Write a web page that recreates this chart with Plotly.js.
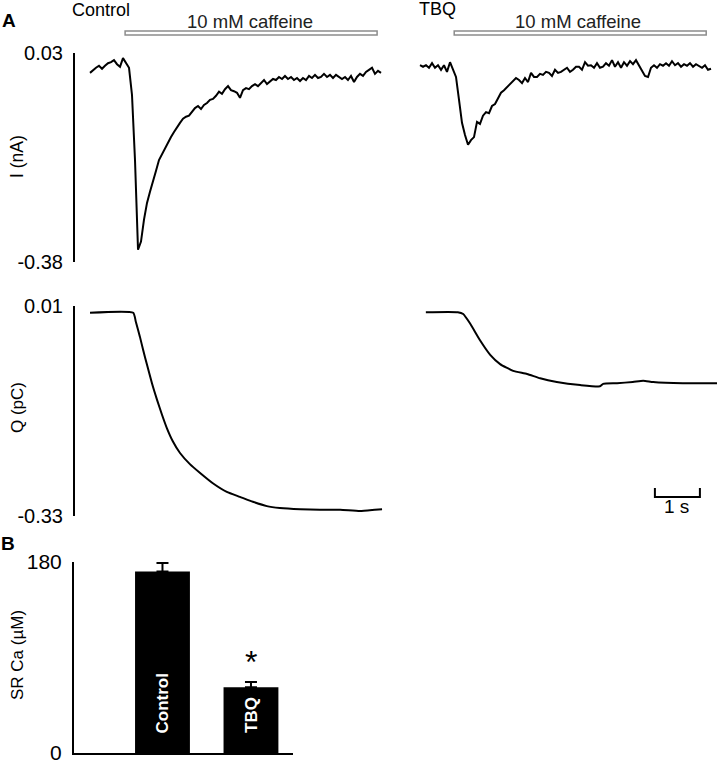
<!DOCTYPE html>
<html>
<head>
<meta charset="utf-8">
<script src="https://cdn.plot.ly/plotly-3.0.1.min.js"></script>
<style>html,body{margin:0;padding:0;background:#fff;}#chart{width:722px;height:763px;}</style>
</head>
<body>
<div id="chart"></div>
<script>
// ---- Data ----
// Sample times (s) of the membrane-current recordings
var tCurrent = [0, 0.067, 0.133, 0.2, 0.267, 0.333, 0.4, 0.467, 0.533, 0.6,
  0.667, 0.733, 0.8, 0.867, 0.933, 1.0, 1.067, 1.133, 1.2, 1.267,
  1.333, 1.4, 1.467, 1.533, 1.6, 1.667, 1.733, 1.8, 1.867, 1.933,
  2.0, 2.067, 2.133, 2.2, 2.267, 2.333, 2.4, 2.467, 2.533, 2.6,
  2.667, 2.733, 2.8, 2.867, 2.933, 3.0, 3.067, 3.133, 3.2, 3.267,
  3.333, 3.4, 3.467, 3.533, 3.6, 3.667, 3.733, 3.8, 3.867, 3.933,
  4.0, 4.067, 4.133, 4.2, 4.267, 4.333, 4.4, 4.467, 4.533, 4.6,
  4.667, 4.733, 4.8, 4.867, 4.933, 5.0, 5.067, 5.133, 5.2, 5.267,
  5.333, 5.4, 5.467, 5.533, 5.6, 5.667, 5.733, 5.8, 5.867, 5.933,
  6.0, 6.067, 6.133, 6.2, 6.267, 6.333, 6.4, 6.467];
// Control current (nA)
var iControl = [-0.009, -0.003, 0.001, 0.005, -0.001, 0.005, 0.010, 0.012, 0.016, 0.008,
  0.003, 0.020, 0.010, 0.001, -0.052, -0.180, -0.356, -0.340, -0.297, -0.264,
  -0.242, -0.223, -0.201, -0.180, -0.168, -0.156, -0.144, -0.135, -0.125, -0.115,
  -0.107, -0.099, -0.095, -0.093, -0.086, -0.078, -0.074, -0.080, -0.072, -0.068,
  -0.062, -0.060, -0.054, -0.046, -0.050, -0.041, -0.035, -0.043, -0.045, -0.048,
  -0.058, -0.043, -0.039, -0.041, -0.035, -0.031, -0.035, -0.029, -0.023, -0.031,
  -0.025, -0.021, -0.023, -0.017, -0.021, -0.015, -0.021, -0.017, -0.023, -0.019,
  -0.025, -0.019, -0.023, -0.015, -0.019, -0.013, -0.019, -0.017, -0.011, -0.017,
  -0.013, -0.019, -0.013, -0.017, -0.021, -0.017, -0.023, -0.015, -0.027, -0.017,
  -0.011, -0.015, -0.007, -0.003, 0.001, -0.011, -0.005, -0.009];
// TBQ current (nA)
var iTBQ = [0.006, 0.003, 0.006, 0.001, 0.010, 0.001, 0.006, -0.003, 0.006, -0.007,
  0.012, -0.003, -0.017, -0.062, -0.107, -0.131, -0.150, -0.141, -0.135, -0.105,
  -0.109, -0.093, -0.086, -0.088, -0.074, -0.070, -0.058, -0.048, -0.043, -0.037,
  -0.033, -0.025, -0.019, -0.023, -0.029, -0.019, -0.027, -0.009, -0.017, -0.017,
  -0.011, -0.013, -0.007, -0.009, -0.015, -0.003, -0.009, -0.007, -0.003, 0.001,
  -0.007, -0.003, 0.003, 0.003, -0.003, 0.012, 0.005, 0.006, 0.001, 0.010,
  0.001, 0.003, 0.010, 0.005, 0.016, 0.003, 0.012, 0.001, 0.012, 0.005,
  0.014, 0.008, 0.016, 0.005, -0.003, -0.015, -0.017, 0.001, 0.006, 0.001,
  0.008, 0.005, 0.010, 0.005, 0.014, 0.006, 0.010, 0.003, 0.008, 0.005,
  0.010, 0.003, 0.008, 0.005, 0.001, 0.006, -0.003, -0.001];
// Integrated charge, control (pC)
var tChargeControl = [0, 0.96, 1.02, 1.11, 1.18, 1.27, 1.38, 1.49, 1.6, 1.71, 1.84, 2.0, 2.22,
  2.44, 2.73, 3.04, 3.33, 3.62, 3.93, 4.22, 4.67, 5.11, 5.56, 6.0, 6.33, 6.49];
var qControl = [-0.001, -0.001, -0.016, -0.040, -0.061, -0.086, -0.116, -0.142, -0.166, -0.188,
  -0.209, -0.228, -0.246, -0.260, -0.277, -0.291, -0.299, -0.307, -0.314, -0.317,
  -0.319, -0.320, -0.320, -0.322, -0.320, -0.319];
// Integrated charge, TBQ (pC)
var tChargeTBQ = [0.13, 0.84, 0.96, 1.11, 1.33, 1.56, 1.78, 2.07, 2.38, 2.67, 3.04, 3.56, 4.0,
  4.07, 4.38, 4.73, 4.96, 5.18, 5.84, 6.6];
var qTBQ = [0.000, 0.000, -0.003, -0.018, -0.045, -0.069, -0.084, -0.095, -0.100, -0.107,
  -0.113, -0.118, -0.120, -0.116, -0.115, -0.113, -0.111, -0.113, -0.115, -0.115];
// Panel B: SR Ca content
var groups = ['Control', 'TBQ'];
var srCaMean = [171, 62];
var srCaSem = [8, 5];
// Axis ticks
var iTicks = [-0.38, 0.03], iTickText = ['-0.38', '0.03'];
var qTicks = [-0.33, 0.01], qTickText = ['-0.33', '0.01'];
var srTicks = [0, 180], srTickText = ['0', '180'];

// ---- Layout helpers ----
var W = 722, H = 763;
function px(x) { return x / W; }
function py(y) { return 1 - y / H; }
var FONT = 'Liberation Sans, Arial, Helvetica, sans-serif';
var tRange = [-15 / 45, 302 / 45];

function hiddenX(dom) {
  return {domain: dom, range: tRange, visible: false, fixedrange: true};
}
function traceY(dom, rng, tv, tt, show) {
  return {
    domain: dom, range: rng, visible: show, showgrid: false, zeroline: false,
    showline: true, linecolor: '#000', linewidth: 2,
    tickmode: 'array', tickvals: tv, ticktext: tt,
    ticks: 'inside', ticklen: 7, tickwidth: 2, tickcolor: '#000',
    ticklabelstandoff: 6, ticklabeloverflow: 'allow',
    tickfont: {family: FONT, size: 20, color: '#000'}, fixedrange: true
  };
}
function note(text, xref, yref, x, y, size, extra) {
  var a = {text: text, xref: xref, yref: yref, x: x, y: y, showarrow: false,
           xanchor: 'center', yanchor: 'middle',
           font: {family: FONT, size: size, color: '#000'}};
  return Object.assign(a, extra || {});
}

var domCtrl = [px(75), px(392)];
var domTbq = [px(405), px(722)];
var domI = [py(262), py(53)];
var domQ = [py(516), py(306)];

var lineStyle = {color: '#000', width: 2};

var data = [
  {x: tCurrent, y: iControl, xaxis: 'x', yaxis: 'y', type: 'scatter', mode: 'lines', line: lineStyle, name: 'Control I'},
  {x: tCurrent, y: iTBQ, xaxis: 'x2', yaxis: 'y2', type: 'scatter', mode: 'lines', line: lineStyle, name: 'TBQ I'},
  {x: tChargeControl, y: qControl, xaxis: 'x3', yaxis: 'y3', type: 'scatter', mode: 'lines',
   line: {color: '#000', width: 2, shape: 'spline', smoothing: 0.5}, name: 'Control Q'},
  {x: tChargeTBQ, y: qTBQ, xaxis: 'x4', yaxis: 'y4', type: 'scatter', mode: 'lines',
   line: {color: '#000', width: 2, shape: 'spline', smoothing: 0.5}, name: 'TBQ Q'},
  {x: groups, y: srCaMean, xaxis: 'x5', yaxis: 'y5', type: 'bar', width: 0.62,
   marker: {color: '#000', line: {width: 0}},
   error_y: {type: 'data', array: srCaSem, arrayminus: [0, 0], symmetric: false,
             color: '#000', thickness: 2, width: 6},
   name: 'SR Ca'}
];

var annotations = [
  note('<b>A</b>', 'paper', 'paper', px(9), py(20), 19),
  note('<b>B</b>', 'paper', 'paper', px(8), py(543), 19),
  note('Control', 'paper', 'paper', px(101), py(10), 18),
  note('TBQ', 'paper', 'paper', px(437), py(9), 18),
  note('10 mM caffeine', 'x', 'paper', 3.55, py(22), 18.5, {font: {family: FONT, size: 18.5, color: '#222'}}),
  note('10 mM caffeine', 'x2', 'paper', 3.52, py(22), 18.5, {font: {family: FONT, size: 18.5, color: '#222'}}),
  note('1 s', 'x4', 'paper', 5.71, py(506), 19),
  note('I (nA)', 'paper', 'paper', px(17), py(157), 17.5, {textangle: -90}),
  note('Q (pC)', 'paper', 'paper', px(17), py(408), 17, {textangle: -90}),
  note('SR Ca (\u00b5M)', 'paper', 'paper', px(17), py(655), 17, {textangle: -90}),
  note('*', 'x5', 'y5', groups[1], srCaMean[1] + srCaSem[1], 32, {yanchor: 'bottom', yshift: 0}),
  note('<b>' + groups[0] + '</b>', 'x5', 'y5', groups[0], 0, 17,
       {yanchor: 'bottom', yshift: 18, textangle: -90, font: {family: FONT, size: 17, color: '#fff'}}),
  note('<b>' + groups[1] + '</b>', 'x5', 'y5', groups[1], 0, 17,
       {yanchor: 'bottom', yshift: 18, textangle: -90, font: {family: FONT, size: 17, color: '#fff'}})
];

var shapes = [
  {type: 'rect', xref: 'x', yref: 'paper', x0: 0.78, x1: 6.38, y0: py(35), y1: py(31),
   line: {color: '#8c8c8c', width: 1.5}, fillcolor: '#fff'},
  {type: 'rect', xref: 'x2', yref: 'paper', x0: 0.76, x1: 6.36, y0: py(35), y1: py(31),
   line: {color: '#8c8c8c', width: 1.5}, fillcolor: '#fff'},
  {type: 'path', xref: 'x4', yref: 'paper',
   path: 'M 5.22,' + py(488) + ' L 5.22,' + py(497) + ' L 6.22,' + py(497) + ' L 6.22,' + py(488),
   line: {color: '#000', width: 2}}
];

var layout = {
  width: W, height: H, autosize: false,
  margin: {l: 0, r: 0, t: 0, b: 0, pad: 0},
  paper_bgcolor: '#fff', plot_bgcolor: 'rgba(0,0,0,0)',
  showlegend: false,
  font: {family: FONT, color: '#000'},
  xaxis: Object.assign(hiddenX(domCtrl), {anchor: 'y'}),
  xaxis2: Object.assign(hiddenX(domTbq), {anchor: 'y2'}),
  xaxis3: Object.assign(hiddenX(domCtrl), {anchor: 'y3'}),
  xaxis4: Object.assign(hiddenX(domTbq), {anchor: 'y4'}),
  yaxis: Object.assign(traceY(domI, [-0.38, 0.03], iTicks, iTickText, true), {anchor: 'x'}),
  yaxis2: Object.assign(traceY(domI, [-0.38, 0.03], iTicks, iTickText, false), {anchor: 'x2'}),
  yaxis3: Object.assign(traceY(domQ, [-0.33, 0.01], qTicks, qTickText, true), {anchor: 'x3'}),
  yaxis4: Object.assign(traceY(domQ, [-0.33, 0.01], qTicks, qTickText, false), {anchor: 'x4'}),
  xaxis5: {domain: [px(74), px(293)], anchor: 'y5', type: 'category', range: [-1.0, 1.475],
           showline: true, linecolor: '#000', linewidth: 2, ticks: '', showticklabels: false,
           showgrid: false, zeroline: false, fixedrange: true},
  yaxis5: {domain: [py(753), py(562)], anchor: 'x5', range: [0, 180],
           showline: true, linecolor: '#000', linewidth: 2, showgrid: false, zeroline: false,
           tickmode: 'array', tickvals: srTicks, ticktext: srTickText,
           ticks: 'inside', ticklen: 7, tickwidth: 2, tickcolor: '#000', ticklabelstandoff: 6,
           ticklabeloverflow: 'allow',
           tickfont: {family: FONT, size: 21, color: '#000'}, fixedrange: true},
  annotations: annotations,
  shapes: shapes
};

Plotly.newPlot('chart', data, layout, {staticPlot: true, displayModeBar: false});
</script>
</body>
</html>
